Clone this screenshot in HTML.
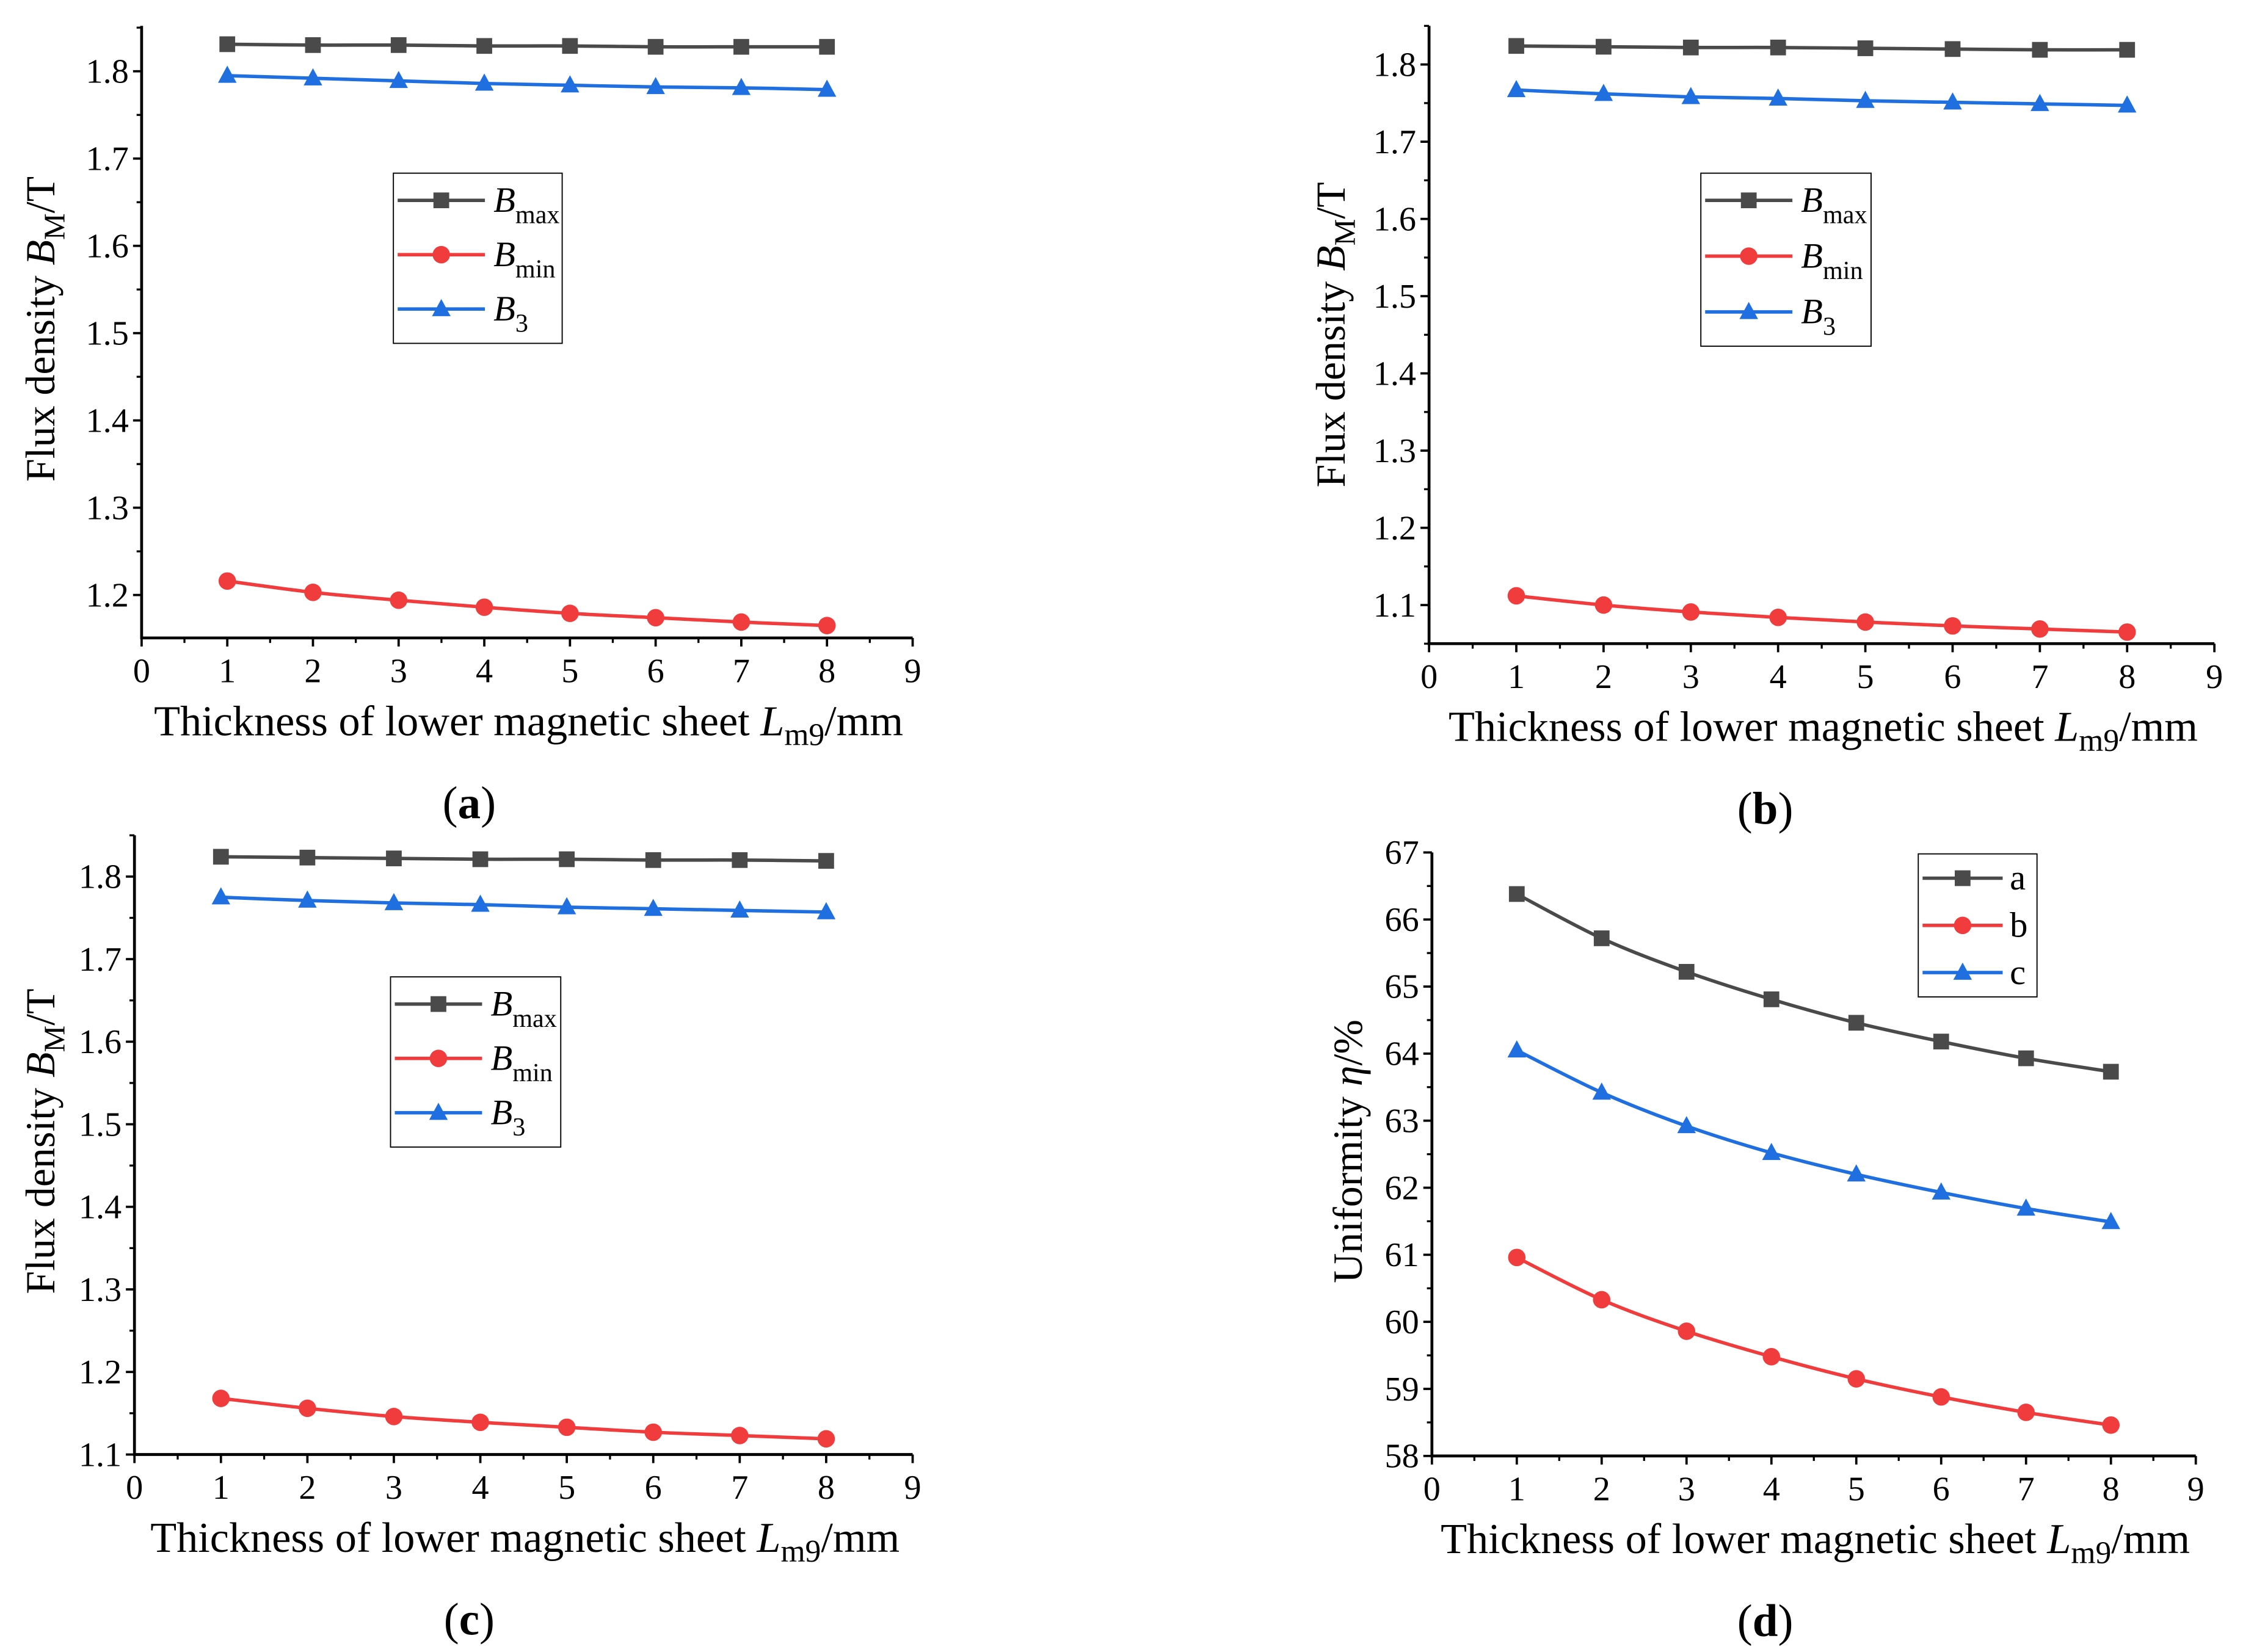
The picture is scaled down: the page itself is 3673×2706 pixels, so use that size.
<!DOCTYPE html>
<html><head><meta charset="utf-8">
<style>
html,body{margin:0;padding:0;background:#fff;}
svg{display:block;}
text{font-family:"Liberation Serif",serif;fill:#000;}
</style></head>
<body>
<svg id="fig" width="3673" height="2706" viewBox="0 0 1568 1155" xmlns="http://www.w3.org/2000/svg"></svg>
<script>
const xTicks = [0,1,2,3,4,5,6,7,8,9];
const xVals = [1,2,3,4,5,6,7,8];
const aBmax = [1.831,1.830,1.830,1.829,1.829,1.828,1.828,1.828];
const aBmin = [1.216,1.203,1.194,1.186,1.179,1.174,1.169,1.165];
const aB3 = [1.795,1.792,1.789,1.786,1.784,1.782,1.781,1.779];
const bBmax = [1.824,1.823,1.822,1.822,1.821,1.820,1.819,1.819];
const bBmin = [1.112,1.100,1.091,1.084,1.078,1.073,1.069,1.065];
const bB3 = [1.767,1.762,1.758,1.756,1.753,1.751,1.749,1.747];
const cBmax = [1.824,1.823,1.822,1.821,1.821,1.820,1.820,1.819];
const cBmin = [1.168,1.156,1.146,1.139,1.133,1.127,1.123,1.119];
const cB3 = [1.775,1.771,1.768,1.766,1.763,1.761,1.759,1.757];
const dA = [66.38,65.72,65.22,64.81,64.46,64.18,63.93,63.73];
const dB = [60.96,60.33,59.86,59.48,59.15,58.88,58.65,58.46];
const dC = [64.05,63.42,62.92,62.52,62.20,61.93,61.69,61.49];
const fluxTicksA = [1.2,1.3,1.4,1.5,1.6,1.7,1.8];
const fluxTicksB = [1.1,1.2,1.3,1.4,1.5,1.6,1.7,1.8];
const uniTicks = [58,59,60,61,62,63,64,65,66,67];

const NS = "http://www.w3.org/2000/svg";
const svg = document.getElementById('fig');
function mk(tag, attrs, parent){
  const e = document.createElementNS(NS, tag);
  for (const k in attrs) e.setAttribute(k, attrs[k]);
  (parent||svg).appendChild(e);
  return e;
}
const COLORS = ['#4a4a4a','#f03c3c','#1f6fe0'];
const SHAPES = ['square','circle','triangle'];

function marker(g, shape, x, y, color, r){
  let m;
  if (shape==='square') m = mk('rect',{x:x-r,y:y-r,width:2*r,height:2*r,fill:color},g);
  else if (shape==='circle') m = mk('circle',{cx:x,cy:y,r:r+0.6,fill:color},g);
  else m = mk('polygon',{points:`${x},${y-r-1.5} ${x-r-1},${y+r-0.5} ${x+r+1},${y+r-0.5}`,fill:color},g);
  return m;
}

function panel(p){
  const g = mk('g',{});
  
  
  const sx = v => p.x0 + (v - 0) / 9 * (p.x1 - p.x0);
  const sy = v => p.yb - (v - p.ymin) / (p.ymax - p.ymin) * (p.yb - p.yt);
  const ax = mk('path',{d:`M${p.x0},${p.yt} L${p.x0},${p.yb} L${p.x1},${p.yb}`,stroke:'#000','stroke-width':2,fill:'none'},g);
  
  
  xTicks.forEach((t,i)=>{
    const x = sx(t);
    mk('line',{x1:x,y1:p.yb,x2:x,y2:p.yb+6,stroke:'#000','stroke-width':1.6},g);
    if (i<xTicks.length-1) { const xm = sx(t+0.5); mk('line',{x1:xm,y1:p.yb,x2:xm,y2:p.yb+3.5,stroke:'#000','stroke-width':1.4},g); }
    const tx = mk('text',{x:x,y:p.yb+31,'font-size':24,'text-anchor':'middle'},g);
    tx.textContent = t;
    
    
  });
  const step = p.yticks[1]-p.yticks[0];
  p.yticks.forEach(t=>{
    const y = sy(t);
    mk('line',{x1:p.x0,y1:y,x2:p.x0-6,y2:y,stroke:'#000','stroke-width':1.6},g);
    const ty = mk('text',{x:p.x0-9,y:y+8,'font-size':24,'text-anchor':'end'},g);
    ty.textContent = p.fmt(t);
    
    
  });
  for (let v = p.yticks[0]-step/2; v < p.ymax; v += step){
    if (v < p.ymin - 1e-9) continue;
    const y = sy(v);
    mk('line',{x1:p.x0,y1:y,x2:p.x0-3.5,y2:y,stroke:'#000','stroke-width':1.4},g);
  }
  p.series.forEach((s,si)=>{
    const sg = mk('g',{},g);
    
    
    const pts = xVals.map((xv,i)=>[sx(xv), sy(s.vals[i])]);
    let d = `M${pts[0][0]},${pts[0][1]}`;
    for (let i=0;i<pts.length-1;i++){
      const p0 = pts[Math.max(0,i-1)], p1 = pts[i], p2 = pts[i+1], p3 = pts[Math.min(pts.length-1,i+2)];
      const c1 = [p1[0]+(p2[0]-p0[0])/6, p1[1]+(p2[1]-p0[1])/6];
      const c2 = [p2[0]-(p3[0]-p1[0])/6, p2[1]-(p3[1]-p1[1])/6];
      d += ` C${c1[0]},${c1[1]} ${c2[0]},${c2[1]} ${p2[0]},${p2[1]}`;
    }
    mk('path',{d:d,stroke:COLORS[si],'stroke-width':2.4,fill:'none'},sg);
    pts.forEach(pt=>{
      const m = marker(sg, SHAPES[si], pt[0], pt[1], COLORS[si], 5.5);
      
      
    });
  });
  const L = p.legend;
  const lg = mk('g',{},g);
  
  
  mk('rect',{x:L.x,y:L.y,width:L.w,height:L.h,fill:'#fff',stroke:'#000','stroke-width':0.8},lg);
  p.series.forEach((s,si)=>{
    const y = L.y + L.pad + si*L.dy;
    const e = mk('g',{},lg);
    
    
    mk('line',{x1:L.x+3,y1:y,x2:L.x+L.lw,y2:y,stroke:COLORS[si],'stroke-width':2.4},e);
    marker(e, SHAPES[si], L.x+3+(L.lw-3)/2, y, COLORS[si], 5.5);
    const t = mk('text',{x:L.x+L.lw+L.tg,y:y+8,'font-size':25},e);
    t.innerHTML = s.label;
  });
  const xt = mk('text',{x:(p.x0+p.x1)/2+1,y:p.yb+68,'font-size':30,'text-anchor':'middle'},g);
  xt.innerHTML = 'Thickness of lower magnetic sheet <tspan font-style="italic">L</tspan><tspan font-size="22" dy="7">m9</tspan><tspan dy="-7">/mm</tspan>';
  
  
  const yt = mk('text',{x:0,y:0,'font-size':29,'text-anchor':'middle',transform:`translate(${p.ytx},${p.ytc}) rotate(-90)`},g);
  yt.innerHTML = p.ytitle;
  
  
  const pl = mk('text',{x:p.plx,y:p.yb+126,'font-size':32,'text-anchor':'middle'},g);
  pl.innerHTML = '(<tspan font-weight="bold">' + p.id + '</tspan>)';
  
  
}

const fluxTitle = 'Flux density <tspan font-style="italic">B</tspan><tspan font-size="21" dy="7">M</tspan><tspan dy="-7">/T</tspan>';
const bLabels = ['<tspan font-style="italic">B</tspan><tspan font-size="18" dy="8">max</tspan>',
                 '<tspan font-style="italic">B</tspan><tspan font-size="18" dy="8">min</tspan>',
                 '<tspan font-style="italic">B</tspan><tspan font-size="18" dy="8">3</tspan>'];
const f1 = v => v.toFixed(1);
const f0 = v => String(v);

panel({id:'a',x0:99,x1:638,yt:18,yb:446,ymin:1.1508,ymax:1.852,yticks:fluxTicksA,fmt:f1,ytx:38,ytc:230,plx:328,ytitle:fluxTitle,
  series:[{name:'bmax',vals:aBmax,label:bLabels[0]},{name:'bmin',vals:aBmin,label:bLabels[1]},{name:'b3',vals:aB3,label:bLabels[2]}],
  legend:{x:275,y:121,w:118,h:119,pad:19,dy:38,lw:64,tg:6}});
panel({id:'b',x0:999,x1:1548,yt:18,yb:450,ymin:1.05,ymax:1.85,yticks:fluxTicksB,fmt:f1,ytx:940,ytc:234,plx:1234,ytitle:fluxTitle,
  series:[{name:'bmax',vals:bBmax,label:bLabels[0]},{name:'bmin',vals:bBmin,label:bLabels[1]},{name:'b3',vals:bB3,label:bLabels[2]}],
  legend:{x:1189,y:121,w:119,h:121,pad:19,dy:39,lw:64,tg:6}});
panel({id:'c',x0:94,x1:638,yt:584,yb:1017,ymin:1.1,ymax:1.85,yticks:fluxTicksB,fmt:f1,ytx:38,ytc:798,plx:328,ytitle:fluxTitle,
  series:[{name:'bmax',vals:cBmax,label:bLabels[0]},{name:'bmin',vals:cBmin,label:bLabels[1]},{name:'b3',vals:cB3,label:bLabels[2]}],
  legend:{x:273,y:683,w:119,h:119,pad:19,dy:38,lw:64,tg:6}});
panel({id:'d',x0:1001,x1:1535,yt:596,yb:1018,ymin:58,ymax:67,yticks:uniTicks,fmt:f0,ytx:952,ytc:805,plx:1234,
  ytitle:'Uniformity <tspan font-style="italic">η</tspan>/%',
  series:[{name:'a',vals:dA,label:'a'},{name:'b',vals:dB,label:'b'},{name:'c',vals:dC,label:'c'}],
  legend:{x:1341,y:597,w:83,h:100,pad:17,dy:33,lw:59,tg:5}});
</script>
</body></html>
